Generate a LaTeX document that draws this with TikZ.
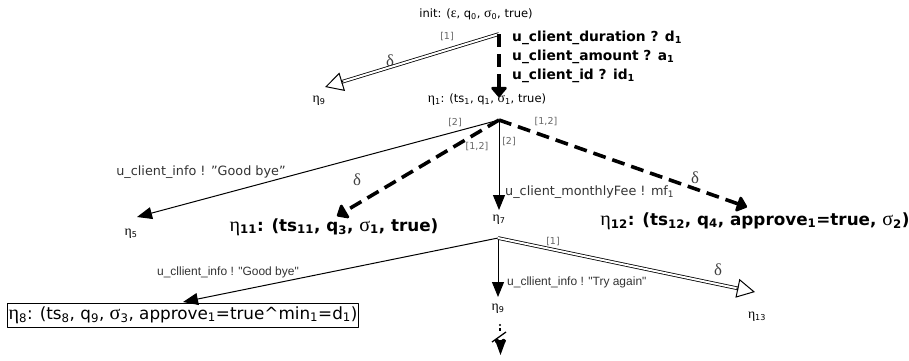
\documentclass[tikz,border=0pt]{standalone}
\usepackage{fontspec}
\setmainfont{DejaVu Sans}
\newfontfamily\grkfont[Scale=1.2]{Liberation Serif}
\newfontfamily\arlfont{Liberation Sans}
\usetikzlibrary{arrows.meta,calc}
\newcommand{\gk}[1]{{\grkfont #1}}
\newcommand{\sbs}[1]{\textsubscript{#1}}
\tikzset{
  state/.style={font=\fontsize{11.5}{13}\selectfont, inner sep=0pt},
  bigstate/.style={font=\fontsize{16.8}{18}\selectfont\bfseries, inner sep=0pt},
  recv/.style={font=\fontsize{13.8}{15}\selectfont\bfseries, inner sep=0pt, anchor=base west},
  msg/.style={font=\fontsize{12.8}{14}\selectfont, text=black!80, inner sep=0pt},
  amsg/.style={font=\arlfont\fontsize{12}{14}\selectfont, text=black!80, inner sep=0pt},
  tag/.style={font=\fontsize{9.5}{11}\selectfont, text=black!60, inner sep=0pt},
  dlt/.style={font=\grkfont\fontsize{14}{16}\selectfont, text=black!75, inner sep=0pt},
  sendarr/.style={->, line width=1pt},
  thick dash/.style={line width=3.6pt, dash pattern=on 13pt off 7pt, -{Triangle[length=11pt,width=18pt,round]}},
  dbl/.style={double=white, double distance=2pt, line width=0.8pt},
  opentip/.style={-{Triangle[open,length=18pt,width=19pt]}, line width=1pt}
}
\begin{document}
\begin{tikzpicture}[x=1pt, y=-1pt, line join=round, >={Triangle[length=15pt,width=12pt]}]
	\useasboundingbox (0,0) rectangle (909,360);
	\node[state] (init) at (476,14) {init: (\gk{ε}, q\sbs{0}, \gk{σ}\sbs{0}, true)};
	\coordinate (r0) at (499,34);
	\coordinate (t9a) at (325,87);
	\coordinate (t1) at (499,97);
	\node[state] (eta9a) at (319,101) {\gk{η}\sbs{9}};
	\node[state] (eta1) at (487,100) {\gk{η}\sbs{1}: (ts\sbs{1}, q\sbs{1}, \gk{σ}\sbs{1}, true)};
	\node[recv] (in1) at (512,41) {u\_client\_duration ? d\sbs{1}};
	\node[recv] (in2) at (512,60) {u\_client\_amount ? a\sbs{1}};
	\node[recv] (in3) at (512,79) {u\_client\_id ? id\sbs{1}};
	\node[tag] (k1) at (447,37) {[1]};
	\node[dlt] (d1) at (390,61) {δ};
	\draw[dbl, shorten >=17pt] (r0) -- (t9a);
	\draw[opentip] ($(t9a)!19pt!(r0)$) -- (t9a);
	\draw[thick dash] (r0) -- (t1);

	\coordinate (v1) at (499,120);
	\coordinate (t5) at (137,217);
	\coordinate (t11) at (337,216);
	\coordinate (t7) at (499,210);
	\coordinate (t12) at (747,207);
	\node[state] (eta5) at (131,234) {\gk{η}\sbs{5}};
	\node[bigstate] (eta11) at (334,227) {\gk{\mdseries η}\sbs{11}: (ts\sbs{11}, q\sbs{3}, \gk{\mdseries σ}\sbs{1}, true)};
	\node[state] (eta7) at (499,220) {\gk{η}\sbs{7}};
	\node[bigstate] (eta12) at (755,221) {\gk{\mdseries η}\sbs{12}: (ts\sbs{12}, q\sbs{4}, approve\sbs{1}=true, \gk{\mdseries σ}\sbs{2})};
	\node[msg] (m5) at (201,172) {u\_client\_info ! "Good bye"};
	\node[msg, anchor=west] (m7) at (505,192) {u\_client\_monthlyFee ! mf\sbs{1}};
	\node[tag] (k2) at (455,123) {[2]};
	\node[tag] (k3) at (477,147) {[1,2]};
	\node[tag] (k4) at (509,142) {[2]};
	\node[tag] (k5) at (546,122) {[1,2]};
	\node[dlt] (d2) at (357,180) {δ};
	\node[dlt] (d3) at (695,178) {δ};
	\draw[sendarr] (v1) -- (t5);
	\draw[sendarr] (v1) -- (t7);
	\draw[thick dash] (v1) -- (t11);
	\draw[thick dash] (v1) -- (t12);

	\coordinate (v7) at (498,238);
	\coordinate (t8) at (183,302);
	\coordinate (t9b) at (498,297);
	\coordinate (t13) at (755,292);
	\node[draw, line width=0.6pt, font=\fontsize{16.8}{18}\selectfont, inner sep=1pt, minimum height=24pt, minimum width=348pt] (eta8) at (183,315) {\gk{η}\sbs{8}: (ts\sbs{8}, q\sbs{9}, \gk{σ}\sbs{3}, approve\sbs{1}=true\^{}min\sbs{1}=d\sbs{1})};
	\node[state] (eta9b) at (498,309) {\gk{η}\sbs{9}};
	\node[state] (eta13) at (757,317) {\gk{η}\sbs{13}};
	\node[amsg] (m8) at (228,272) {u\_cllient\_info ! "Good bye"};
	\node[amsg, anchor=west] (m9) at (507,282) {u\_cllient\_info ! "Try again"};
	\node[tag] (k6) at (553,242) {[1]};
	\node[dlt] (d4) at (718,270) {δ};
	\draw[sendarr] (v7) -- (t8);
	\draw[sendarr] (v7) -- (t9b);
	\draw[dbl, shorten >=17pt] (v7) -- (t13);
	\draw[opentip] ($(t13)!19pt!(v7)$) -- (t13);

	\fill (500,325) circle (1.2pt);
	\draw[line width=1.2pt] (500,328) -- (500,331);
	\draw[line width=1.3pt] (492,342) -- (506,332);
	\fill (495,340) -- (506,340) -- (500.5,355) -- cycle;
	\fill (497,341) circle (2.2pt) (503.5,341) circle (2.2pt) (500,346) circle (2.2pt);
\end{tikzpicture}
\end{document}
